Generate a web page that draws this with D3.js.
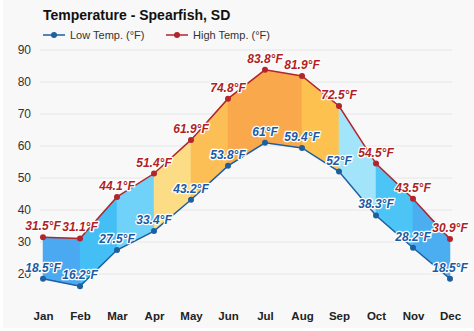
<!DOCTYPE html>
<html>
<head>
<meta charset="utf-8">
<script src="https://cdn.jsdelivr.net/npm/d3@7"></script>
<style>
  html, body { margin: 0; padding: 0; background: #ffffff; }
  svg { display: block; font-family: "Liberation Sans", Arial, Helvetica, sans-serif; }
</style>
</head>
<body>
<svg id="chart" width="474" height="331"></svg>
<script>
const months = ["Jan","Feb","Mar","Apr","May","Jun","Jul","Aug","Sep","Oct","Nov","Dec"];
const lowTemps = [18.5, 16.2, 27.5, 33.4, 43.2, 53.8, 61, 59.4, 52, 38.3, 28.2, 18.5];
const highTemps = [31.5, 31.1, 44.1, 51.4, 61.9, 74.8, 83.8, 81.9, 72.5, 54.5, 43.5, 30.9];
const segmentColors = ["#4aa9f0", "#44bff6", "#70d1f9", "#fddc86", "#fcbf56", "#f9a84b", "#f9a94c", "#fdc14f", "#a2e4f9", "#4cc5f6", "#4aaef1"];
const yTicks = [20, 30, 40, 50, 60, 70, 80, 90];
const seriesNames = ["Low Temp. (°F)", "High Temp. (°F)"];

const lowColor = "#1e5f9f";
const highColor = "#b3252b";
const lowText = "#1b5ba3";
const highText = "#b01f26";

const svg = d3.select("#chart");
svg.append("rect").attr("x", 3).attr("y", 0).attr("width", 471).attr("height", 328).attr("fill", "#f8f8f8");

const x = d3.scalePoint().domain(months).range([43, 450]);
const y = d3.scaleLinear().domain([10, 90]).range([306, 50]);

// grid
const grid = svg.append("g");
grid.selectAll("line").data(yTicks).join("line")
  .attr("x1", 40).attr("x2", 452)
  .attr("y1", d => y(d)).attr("y2", d => y(d))
  .attr("stroke", "#e6e6e6").attr("stroke-width", 1);

// y axis
const yAxis = d3.axisLeft(y).tickValues(yTicks).tickSize(0).tickPadding(0);
const yg = svg.append("g").attr("transform", "translate(31,0)").call(yAxis);
yg.select(".domain").remove();
yg.selectAll("text").attr("font-size", 12).attr("fill", "#333").attr("font-family", "Liberation Sans, Arial, sans-serif");

// x axis
const xAxis = d3.axisBottom(x).tickSize(0).tickPadding(0);
const xg = svg.append("g").attr("transform", "translate(0,312)").call(xAxis);
xg.select(".domain").remove();
xg.selectAll("text").attr("font-size", 11.5).attr("font-weight", "bold").attr("fill", "#222").attr("font-family", "Liberation Sans, Arial, sans-serif");

// segment fills
const data = months.map((m, i) => ({ m, lo: lowTemps[i], hi: highTemps[i] }));
const area = d3.area().x(d => x(d.m)).y0(d => y(d.lo)).y1(d => y(d.hi));
const segs = d3.range(months.length - 1).map(i => [data[i], data[i + 1]]);
svg.append("g").selectAll("path").data(segs).join("path")
  .attr("d", area)
  .attr("fill", (d, i) => segmentColors[i])
  .attr("stroke", (d, i) => segmentColors[i])
  .attr("stroke-width", 0.5);

// lines
const lineLo = d3.line().x(d => x(d.m)).y(d => y(d.lo));
const lineHi = d3.line().x(d => x(d.m)).y(d => y(d.hi));
svg.append("path").datum(data).attr("d", lineLo).attr("fill", "none").attr("stroke", lowColor).attr("stroke-width", 1.5);
svg.append("path").datum(data).attr("d", lineHi).attr("fill", "none").attr("stroke", highColor).attr("stroke-width", 1.5);

// points
svg.append("g").selectAll("circle").data(data).join("circle")
  .attr("cx", d => x(d.m)).attr("cy", d => y(d.lo)).attr("r", 3).attr("fill", lowColor);
svg.append("g").selectAll("circle").data(data).join("circle")
  .attr("cx", d => x(d.m)).attr("cy", d => y(d.hi)).attr("r", 3).attr("fill", highColor);

// labels
function labels(key, color) {
  svg.append("g").selectAll("text").data(data).join("text")
    .attr("x", d => x(d.m)).attr("y", d => y(d[key]) - 7)
    .attr("text-anchor", "middle")
    .attr("font-size", 12).attr("font-weight", "bold").attr("font-style", "italic")
    .attr("fill", color)
    .attr("stroke", "#ffffff").attr("stroke-width", 2.5).attr("stroke-linejoin", "round")
    .attr("paint-order", "stroke")
    .text(d => d[key] + "°F");
}
labels("lo", lowText);
labels("hi", highText);

// title
svg.append("text").attr("x", 43).attr("y", 20).attr("font-size", 14).attr("font-weight", "bold").attr("fill", "#111")
  .text("Temperature - Spearfish, SD");

// legend
const legendItems = [
  { name: seriesNames[0], color: lowColor, x0: 43 },
  { name: seriesNames[1], color: highColor, x0: 166 }
];
const lg = svg.append("g").selectAll("g").data(legendItems).join("g");
lg.append("line").attr("x1", d => d.x0).attr("x2", d => d.x0 + 22).attr("y1", 35).attr("y2", 35)
  .attr("stroke", d => d.color).attr("stroke-width", 1.5);
lg.append("circle").attr("cx", d => d.x0 + 11).attr("cy", 35).attr("r", 3).attr("fill", d => d.color);
lg.append("text").attr("x", d => d.x0 + 27).attr("y", 39).attr("font-size", 11).attr("fill", "#333").text(d => d.name);
</script>
</body>
</html>
